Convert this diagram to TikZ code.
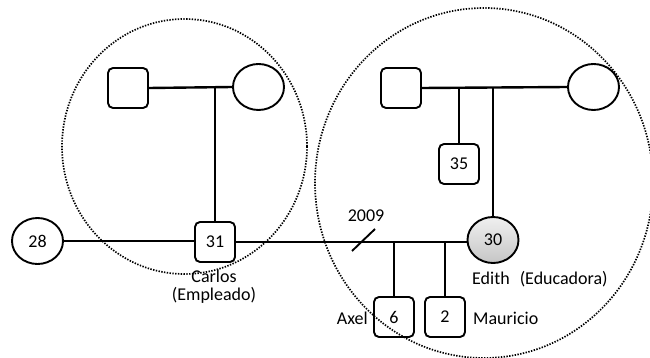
\documentclass[tikz,border=0pt]{standalone}
\usepackage{fontspec}
\setmainfont{Carlito}
\usetikzlibrary{shapes.geometric}
\begin{document}
\begin{tikzpicture}[x=1pt,y=-1pt,
  every node/.style={font=\fontsize{18}{18}\selectfont, inner sep=0pt},
  male/.style={draw, line width=1.9pt, rounded corners=5pt, minimum width=40pt, minimum height=40pt},
  female/.style={draw, line width=1.9pt, ellipse, minimum width=51pt, minimum height=46pt},
  rel/.style={line width=2.4pt},
  grp/.style={line width=1.7pt, dash pattern=on 1.4pt off 1.4pt}]
\useasboundingbox (0,0) rectangle (650,358);
% group circles
\draw[grp] (184.5,146.5) ellipse [x radius=122.5, y radius=127.5];
\draw[grp] (484,183) ellipse [x radius=169, y radius=175];
% left family
\node[male] (lgf) at (128,88) {};
\node[female] (lgm) at (258.5,87) {};
\node[male] (carlos) at (215,242) {31};
\node[female] (p28) at (37.5,241) {28};
\draw[rel] (lgf.east) -- (lgm.west);
\draw[rel] (carlos.north) -- (carlos.north |- lgm.west);
\draw[rel] (p28.east) -- (p28.east -| carlos.west);
\node[align=center] (carloslbl) at (214,287) {Carlos\\(Empleado)};
% right family
\node[male] (rgf) at (401,88) {};
\node[female] (rgm) at (593.5,87) {};
\node[male] (b35) at (459,164) {35};
\node[female, shade, top color=gray!12, bottom color=gray!45] (edith) at (493,240) {30};
\draw[rel] (rgf.east) -- (rgm.west);
\draw[rel] (b35.north) -- (b35.north |- rgm.west);
\draw[rel] (edith.north) -- (edith.north |- rgm.west);
% couple
\draw[rel] (carlos.east) -- (carlos.east -| edith.west);
\coordinate (s1) at (352,251);
\coordinate (s2) at (375,229);
\draw[line width=1.9pt] (s1) -- (s2);
\node (yr) at (366,216) {2009};
% children
\node[male] (axel) at (394,317) {6};
\node[male] (mau) at (445,317) {2};
\draw[rel] (axel.north) -- (axel.north |- carlos.east);
\draw[rel] (mau.north) -- (mau.north |- carlos.east);
\node[anchor=east] (axellbl) at (368,318) {Axel};
\node[anchor=west] (maulbl) at (473,318) {Mauricio};
\node[anchor=west] (edithlbl) at (472,279) {Edith\hspace{10pt}(Educadora)};
\end{tikzpicture}
\end{document}
